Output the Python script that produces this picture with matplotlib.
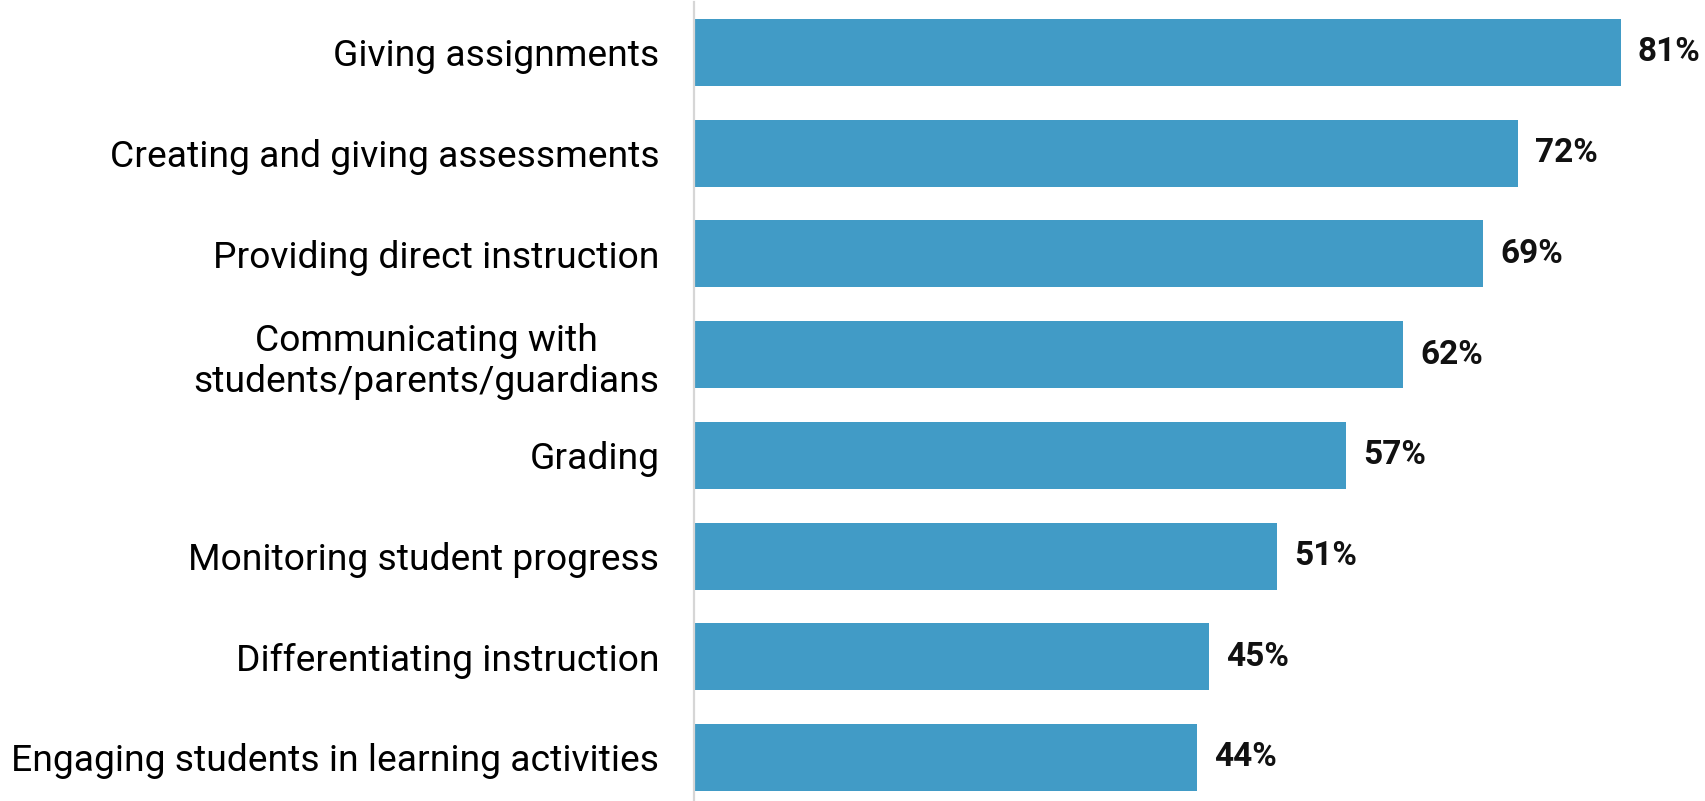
import matplotlib.pyplot as plt

plt.rcParams['font.family'] = ['Roboto', 'DejaVu Sans']

categories = [
    "Giving assignments",
    "Creating and giving assessments",
    "Providing direct instruction",
    "Communicating with\nstudents/parents/guardians",
    "Grading",
    "Monitoring student progress",
    "Differentiating instruction",
    "Engaging students in learning activities",
]
values = [81, 72, 69, 62, 57, 51, 45, 44]

bar_color = "#419bc6"

W, H = 1706, 801
fig = plt.figure(figsize=(W / 100, H / 100), dpi=100)
# axes placed in pixel terms of the reference
ax = fig.add_axes([694 / W, 0, 1 - 694 / W, 1 - 2 / H])

pos = list(range(len(categories)))
ax.barh(pos, values, height=0.665, color=bar_color, zorder=2)

for p, v in zip(pos, values):
    ax.annotate(f"{v}%", xy=(v, p), xytext=(17, 0), textcoords="offset pixels",
                va="center", ha="left", fontsize=24, fontweight="bold", color="#111111")

ax.set_xlim(0, (W - 694) / 11.44)
ax.set_ylim(7.432, -0.5)

ax.set_yticks(pos)
ax.set_yticklabels(categories, fontsize=26.8, linespacing=1.18)
ax.tick_params(axis="y", length=0, pad=25)
ax.set_xticks([])

for s in ["top", "right", "bottom"]:
    ax.spines[s].set_visible(False)
ax.spines["left"].set_color("#d6d6d6")
ax.spines["left"].set_linewidth(1.6)

for lbl in ax.get_yticklabels():
    lbl.set_horizontalalignment("right")
    lbl.set_multialignment("center")

fig.savefig("out.png", dpi=100)
